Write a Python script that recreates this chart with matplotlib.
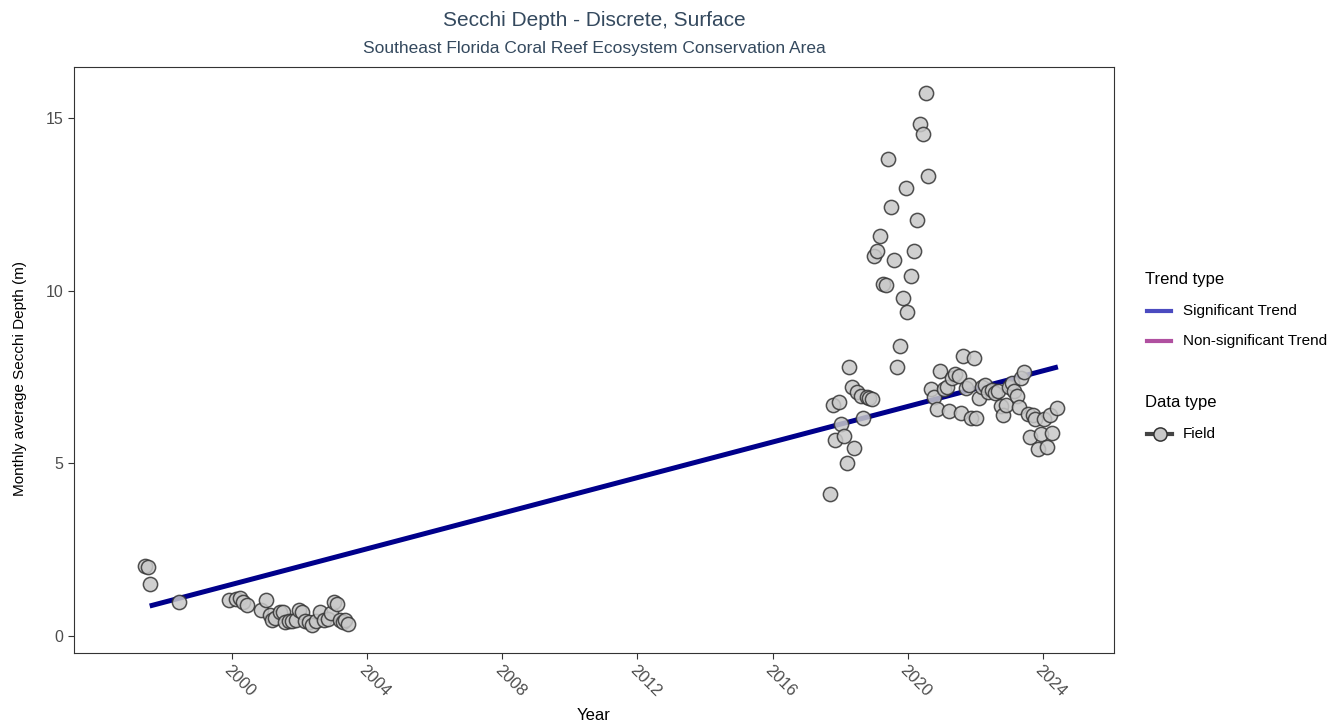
import matplotlib
matplotlib.use("Agg")
import matplotlib.pyplot as plt
from matplotlib.lines import Line2D

plt.rcParams['font.family'] = ['Liberation Sans', 'DejaVu Sans']

# Data: decimal year and monthly average Secchi depth (m)
years = [1997.43, 1997.52, 1997.58, 1998.43,
         1999.91, 2000.12, 2000.24, 2000.32, 2000.44, 2000.86, 2001.00, 2001.12,
         2001.18, 2001.27, 2001.42, 2001.50, 2001.57, 2001.68, 2001.77, 2001.89,
         2002.00, 2002.07, 2002.16, 2002.27, 2002.36, 2002.48, 2002.60, 2002.72,
         2002.84, 2002.92, 2003.01, 2003.10, 2003.19, 2003.28, 2003.34, 2003.43,
         2017.70, 2017.78, 2017.84, 2017.96, 2018.02, 2018.11, 2018.20, 2018.26,
         2018.35, 2018.40, 2018.49, 2018.61, 2018.67, 2018.79, 2018.85, 2018.94,
         2019.00, 2019.08, 2019.17, 2019.26, 2019.35, 2019.41, 2019.50, 2019.59,
         2019.67, 2019.76, 2019.85, 2019.94, 2019.99, 2020.09, 2020.18, 2020.27,
         2020.35, 2020.44, 2020.53, 2020.59, 2020.68, 2020.77, 2020.86, 2020.95,
         2021.06, 2021.15, 2021.21, 2021.30, 2021.39, 2021.51, 2021.57, 2021.62,
         2021.71, 2021.80, 2021.86, 2021.95, 2022.01, 2022.10, 2022.19, 2022.27,
         2022.36, 2022.48, 2022.57, 2022.66, 2022.75, 2022.81, 2022.90, 2022.98,
         2023.07, 2023.13, 2023.22, 2023.28, 2023.34, 2023.43, 2023.55, 2023.60,
         2023.69, 2023.75, 2023.84, 2023.93, 2024.02, 2024.11, 2024.20, 2024.28,
         2024.40]
secchi = [2.03, 2.00, 1.50, 1.00,
          1.04, 1.07, 1.10, 1.00, 0.90, 0.75, 1.04, 0.60,
          0.46, 0.52, 0.70, 0.70, 0.40, 0.43, 0.43, 0.46,
          0.75, 0.70, 0.43, 0.40, 0.32, 0.43, 0.70, 0.46,
          0.50, 0.66, 0.98, 0.93, 0.46, 0.40, 0.46, 0.35,
          4.11, 6.69, 5.67, 6.77, 6.14, 5.79, 5.00, 7.79,
          7.21, 5.44, 7.06, 6.95, 6.31, 6.92, 6.89, 6.86,
          11.00, 11.14, 11.58, 10.19, 10.16, 13.80, 12.42, 10.88,
          7.79, 8.39, 9.78, 12.97, 9.38, 10.42, 11.14, 12.04,
          14.82, 14.53, 15.72, 13.31, 7.15, 6.92, 6.57, 7.67,
          7.15, 7.21, 6.51, 7.47, 7.58, 7.53, 6.45, 8.10,
          7.18, 7.26, 6.31, 8.05, 6.31, 6.89, 7.21, 7.26,
          7.06, 7.12, 7.03, 7.09, 6.66, 6.40, 6.69, 7.21,
          7.32, 7.09, 6.95, 6.63, 7.47, 7.64, 6.43, 5.76,
          6.40, 6.28, 5.41, 5.85, 6.28, 5.47, 6.40, 5.88,
          6.60]

trend_years = [1997.57, 2024.44]
trend_values = [0.87, 7.79]

xticks = [2000, 2004, 2008, 2012, 2016, 2020, 2024]
yticks = [0, 5, 10, 15]

trend_labels = ['Significant Trend', 'Non-significant Trend']
trend_colors = ['#4B4BC0', '#B050A0']

W, H = 1331, 725
fig = plt.figure(figsize=(W / 100, H / 100), dpi=100)
ax = fig.add_axes([74/W, 1-653/H, (1114-74)/W, (653-67)/H])

ax.plot(trend_years, trend_values, color='#00008B', lw=3.6, zorder=2,
        solid_capstyle='butt')
ax.scatter(years, secchi, s=105, facecolor='#C8C8C8', edgecolor='#333333',
           linewidth=1.1, alpha=0.85, zorder=3)

ax.set_xlim(1995.33, 2026.1)
ax.set_ylim(-0.49, 16.47)
ax.set_xticks(xticks)
ax.set_xticklabels([str(t) for t in xticks], rotation=-45, ha='left',
                   va='top', rotation_mode='anchor')
ax.set_yticks(yticks)
ax.tick_params(axis='both', colors='#333333', labelcolor='#4D4D4D',
               labelsize=11.5, length=4, width=0.8)
ax.tick_params(axis='x', pad=3, labelsize=12)
for sp in ax.spines.values():
    sp.set_color('#333333')
    sp.set_linewidth(0.8)

ax.set_xlabel('Year', fontsize=12, color='black')
ax.xaxis.set_label_coords((594-74)/(1114-74), -(715-653)/(653-67))
ax.xaxis.label.set_va('center')
ax.set_ylabel('Monthly average Secchi Depth (m)', fontsize=11, color='black')
ax.yaxis.set_label_coords(-(74-20)/(1114-74), (653-378)/(653-67))
ax.yaxis.label.set_va('center')

fig.text(594/W, 1-20/H, 'Secchi Depth - Discrete, Surface', ha='center',
         va='center', fontsize=15, color='#34495E')
fig.text(594/W, 1-48/H, 'Southeast Florida Coral Reef Ecosystem Conservation Area',
         ha='center', va='center', fontsize=12.5, color='#34495E')

# Legends (manual layout, ggplot style)
fig.text(1145/W, 1-279/H, 'Trend type', ha='left', va='center', fontsize=12)
for i, (lab, col) in enumerate(zip(trend_labels, trend_colors)):
    y = 1 - (311 + 30*i)/H
    fig.add_artist(Line2D([1147/W, 1171/W], [y, y], color=col, lw=3,
                          transform=fig.transFigure))
    fig.text(1183/W, y, lab, ha='left', va='center', fontsize=11)

fig.text(1145/W, 1-403/H, 'Data type', ha='left', va='center', fontsize=12)
yf = 1 - 434/H
fig.add_artist(Line2D([1147/W, 1172/W], [yf, yf], color='#444444', lw=3,
                      transform=fig.transFigure))
fig.add_artist(Line2D([1159.5/W], [yf], marker='o', markersize=9.5,
                      markerfacecolor='#C8C8C8', markeredgecolor='#333333',
                      markeredgewidth=1.1, transform=fig.transFigure))
fig.text(1183/W, yf, 'Field', ha='left', va='center', fontsize=11)

fig.savefig('out.png', dpi=100)
